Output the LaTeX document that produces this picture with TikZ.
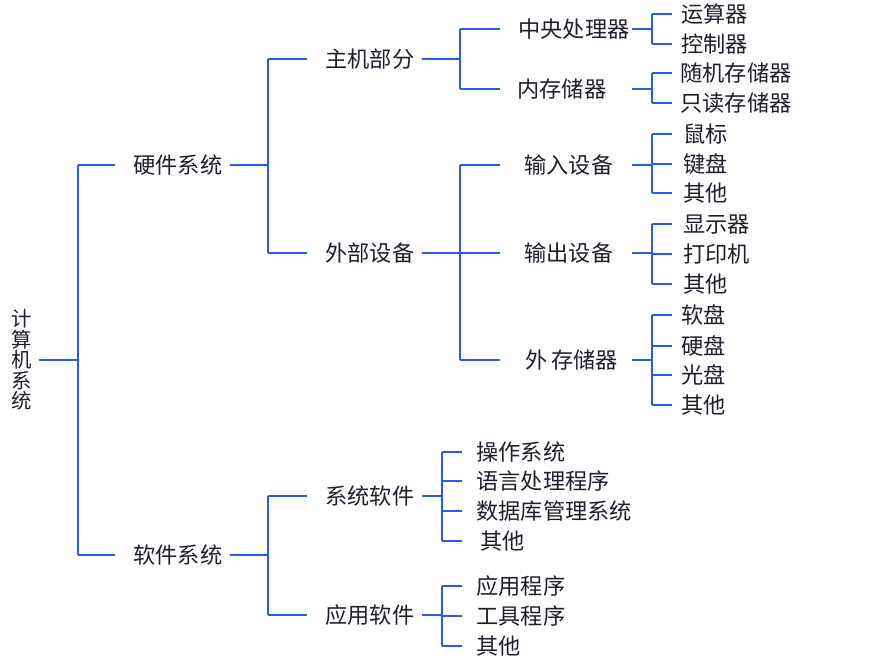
\documentclass[tikz,border=0pt]{standalone}
\usepackage{fontspec}
\setmainfont{Noto Sans CJK SC}
\usetikzlibrary{positioning}

\definecolor{treeblue}{RGB}{40,90,240}
\definecolor{inkgray}{RGB}{30,30,45}

\tikzset{
  link/.style={draw=treeblue,line width=0.8pt},
  lbl/.style={anchor=west,inner sep=0pt,text=inkgray,font=\fontsize{11.1}{12}\selectfont,
    text height=9.2pt,text depth=0.4pt},
}

\begin{document}
\begin{tikzpicture}[line cap=butt,line join=miter,x=0.5pt,y=-0.5pt]
\useasboundingbox (0,0) rectangle (889,666);
% junction columns
\coordinate (j0) at (78,0);
\coordinate (j1) at (268,0);
\coordinate (j2) at (460,0);
\coordinate (j3) at (652,0);
\coordinate (j4) at (442,0);
% root
\node [text=inkgray,font=\fontsize{10.2}{10.2}\selectfont,align=center,inner xsep=3pt,inner ysep=0pt] (root) at (22,360) {计\\算\\机\\系\\统};
% level 1
\node [lbl] (hw) at (133,165) {硬件系统};
\node [lbl] (sw) at (133,555) {软件系统};
% level 2
\node [lbl] (host) at (325,59) {主机部分};
\node [lbl] (peri) at (325,253) {外部设备};
\node [lbl] (syssw) at (325,496) {系统软件};
\node [lbl] (appsw) at (325,615) {应用软件};
% level 3
\node [lbl] (cpu) at (518,29) {中央处理器};
\node [lbl] (mem) at (517,89) {内存储器};
\node [lbl] (inp) at (524,165) {输入设备};
\node [lbl] (outp) at (524,253) {输出设备};
\node [lbl] (ext) at (525,360) {外\,存储器};
% leaves
\node [lbl] (alu) at (681,14) {运算器};
\node [lbl] (ctl) at (681,44) {控制器};
\node [lbl] (ram) at (680,73) {随机存储器};
\node [lbl] (rom) at (680,103) {只读存储器};
\node [lbl] (mouse) at (683,134) {鼠标};
\node [lbl] (kbd) at (683,164) {键盘};
\node [lbl] (inoth) at (683,193) {其他};
\node [lbl] (disp) at (683,224) {显示器};
\node [lbl] (prn) at (683,254) {打印机};
\node [lbl] (outoth) at (683,284) {其他};
\node [lbl] (fd) at (681,315) {软盘};
\node [lbl] (hd) at (681,346) {硬盘};
\node [lbl] (cd) at (681,375) {光盘};
\node [lbl] (extoth) at (681,405) {其他};
\node [lbl] (os) at (476,452) {操作系统};
\node [lbl] (lang) at (476,481) {语言处理程序};
\node [lbl] (dbms) at (476,511) {数据库管理系统};
\node [lbl] (sysoth) at (480,541) {其他};
\node [lbl] (appl) at (476,586) {应用程序};
\node [lbl] (tool) at (476,616) {工具程序};
\node [lbl] (appoth) at (476,646) {其他};

% root -> level 1
\draw [link] (root.east) -- (j0 |- root);
\draw [link] (j0 |- hw) -- (j0 |- sw);
\draw [link] (j0 |- hw) -- ++(37,0);
\draw [link] (j0 |- sw) -- ++(37,0);
% hardware
\draw [link] (j1 |- hw) -- ++(-38,0);
\draw [link] (j1 |- host) -- (j1 |- peri);
\draw [link] (j1 |- host) -- ++(39,0);
\draw [link] (j1 |- peri) -- ++(39,0);
% host
\draw [link] (j2 |- host) -- ++(-38,0);
\draw [link] (j2 |- cpu) -- (j2 |- mem);
\draw [link] (j2 |- cpu) -- ++(40,0);
\draw [link] (j2 |- mem) -- ++(40,0);
\draw [link] (j3 |- cpu) -- ++(-20,0);
\draw [link] (j3 |- alu) -- (j3 |- ctl);
\draw [link] (j3 |- alu) -- ++(20,0);
\draw [link] (j3 |- ctl) -- ++(20,0);
\draw [link] (j3 |- mem) -- ++(-20,0);
\draw [link] (j3 |- ram) -- (j3 |- rom);
\draw [link] (j3 |- ram) -- ++(20,0);
\draw [link] (j3 |- rom) -- ++(20,0);
% peripherals
\draw [link] (j2 |- peri) -- ++(-38,0);
\draw [link] (j2 |- inp) -- (j2 |- ext);
\draw [link] (j2 |- inp) -- ++(40,0);
\draw [link] (j2 |- outp) -- ++(40,0);
\draw [link] (j2 |- ext) -- ++(40,0);
\draw [link] (j3 |- inp) -- ++(-20,0);
\draw [link] (j3 |- mouse) -- (j3 |- inoth);
\draw [link] (j3 |- mouse) -- ++(20,0);
\draw [link] (j3 |- kbd) -- ++(20,0);
\draw [link] (j3 |- inoth) -- ++(20,0);
\draw [link] (j3 |- outp) -- ++(-20,0);
\draw [link] (j3 |- disp) -- (j3 |- outoth);
\draw [link] (j3 |- disp) -- ++(20,0);
\draw [link] (j3 |- prn) -- ++(20,0);
\draw [link] (j3 |- outoth) -- ++(20,0);
\draw [link] (j3 |- ext) -- ++(-20,0);
\draw [link] (j3 |- fd) -- (j3 |- extoth);
\draw [link] (j3 |- fd) -- ++(20,0);
\draw [link] (j3 |- hd) -- ++(20,0);
\draw [link] (j3 |- cd) -- ++(20,0);
\draw [link] (j3 |- extoth) -- ++(20,0);
% software
\draw [link] (j1 |- sw) -- ++(-38,0);
\draw [link] (j1 |- syssw) -- (j1 |- appsw);
\draw [link] (j1 |- syssw) -- ++(39,0);
\draw [link] (j1 |- appsw) -- ++(39,0);
\draw [link] (j4 |- syssw) -- ++(-20,0);
\draw [link] (j4 |- os) -- (j4 |- sysoth);
\draw [link] (j4 |- os) -- ++(20,0);
\draw [link] (j4 |- lang) -- ++(20,0);
\draw [link] (j4 |- dbms) -- ++(20,0);
\draw [link] (j4 |- sysoth) -- ++(20,0);
\draw [link] (j4 |- appsw) -- ++(-20,0);
\draw [link] (j4 |- appl) -- (j4 |- appoth);
\draw [link] (j4 |- appl) -- ++(20,0);
\draw [link] (j4 |- tool) -- ++(20,0);
\draw [link] (j4 |- appoth) -- ++(20,0);
\end{tikzpicture}
\end{document}
